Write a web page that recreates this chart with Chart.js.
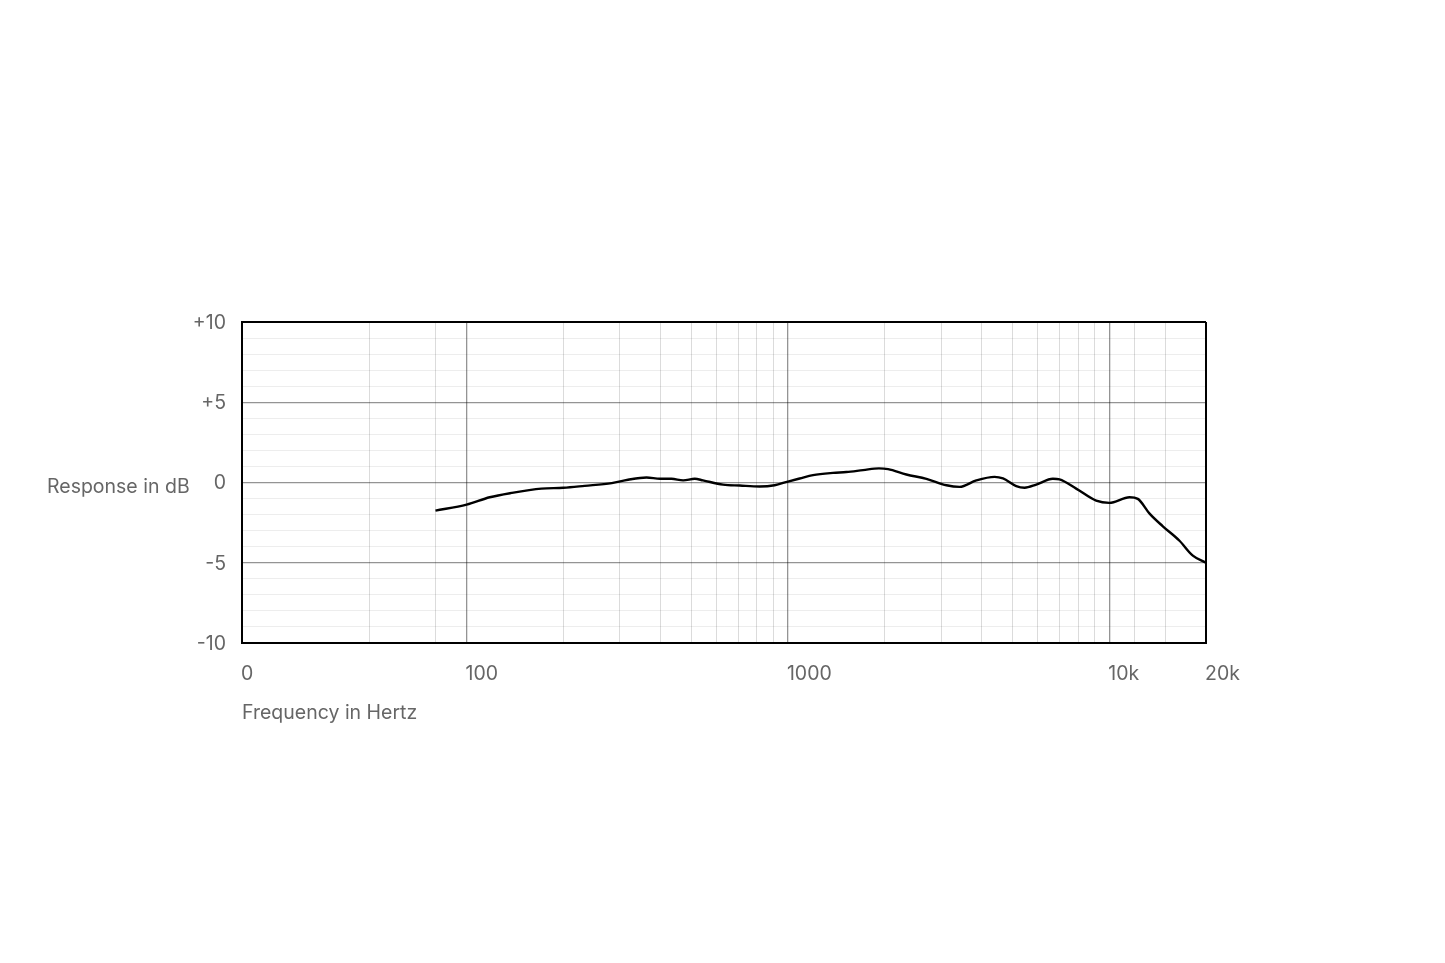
<!DOCTYPE html>
<html>
<head>
<meta charset="utf-8">
<script src="https://cdn.jsdelivr.net/npm/chart.js@4.4.1/dist/chart.umd.min.js"></script>
<style>
  html, body { margin: 0; padding: 0; background: #fff; }
  #wrap { width: 1445px; height: 963px; }
</style>
</head>
<body>
<div id="wrap"><canvas id="chart" width="1445" height="963"></canvas></div>
<script>
// measured curve (Hz / dB)
const freqHz = [80, 100, 118, 138, 171, 200, 233, 283, 318, 363, 400, 434, 472, 513, 544, 628, 708, 817, 909, 1000,
  1088, 1197, 1381, 1520, 1713, 1920, 2050, 2336, 2698, 3114, 3422, 3857, 4396, 4670, 5135, 5452, 5927, 6675, 7000,
  7888, 9104, 10000, 11563, 12271, 13350, 14680, 16540, 18200, 20000]
const responseDb = [-1.75, -1.38, -0.92, -0.65, -0.38, -0.33, -0.21, -0.04, 0.17, 0.31, 0.23, 0.23, 0.13, 0.23, 0.13, -0.13, -0.19, -0.25, -0.17, 0.06,
  0.25, 0.46, 0.6, 0.65, 0.77, 0.88, 0.83, 0.5, 0.23, -0.17, -0.27, 0.13, 0.35, 0.25, -0.23, -0.33, -0.13, 0.23, 0.19,
  -0.38, -1.13, -1.27, -0.92, -1.02, -1.94, -2.73, -3.63, -4.56, -5.0]

// frequency grid lines and their labels
const xGridHz = [20, 50, 80, 100, 200, 300, 400, 500, 600, 700, 800, 900, 1000,
  2000, 3000, 4000, 5000, 6000, 7000, 8000, 9000, 10000, 12000, 15000, 20000]
const xLabelHz = [20, 100, 1000, 10000, 20000]
const xLabelText = ['0', '100', '1000', '10k', '20k']
const xMajorHz = [100, 1000, 10000]

const yMin = -10
const yMax = 10
const yLabelDb = [10, 5, 0, -5, -10]
const yLabelText = ['+10', '+5', '0', '-5', '-10']

const textColor = '#666'
const font = { family: 'Inter, "Noto Sans", sans-serif', size: 19.5 }

// semi-transparent so crossing lines stay continuous
const majorGrid = 'rgba(0,0,0,0.42)'
const minorGridV = 'rgba(0,0,0,0.14)'
const minorGridH = 'rgba(0,0,0,0.07)'

// horizontal y-axis caption next to the 0 tick
const sideTitle = {
  id: 'sideTitle',
  afterDraw(chart) {
    const { ctx, chartArea, scales } = chart
    ctx.save()
    ctx.font = `${font.size}px ${font.family}`
    ctx.fillStyle = textColor
    ctx.textAlign = 'left'
    ctx.textBaseline = 'alphabetic'
    ctx.fillText('Response in dB', chartArea.left - 195, scales.y.getPixelForValue(0) + 10)
    ctx.restore()
  }
}

new Chart(document.getElementById('chart'), {
  type: 'line',
  data: {
    datasets: [{
      data: freqHz.map((f, i) => ({ x: f, y: responseDb[i] })),
      borderColor: '#000',
      borderWidth: 2.4,
      pointRadius: 0,
      tension: 0.4,
      cubicInterpolationMode: 'monotone',
      fill: false
    }]
  },
  plugins: [sideTitle],
  options: {
    responsive: false,
    animation: false,
    layout: { padding: { left: 0, top: 322, right: 239, bottom: 238 } },
    plugins: {
      legend: { display: false },
      tooltip: { enabled: false }
    },
    scales: {
      x: {
        type: 'logarithmic',
        min: 20,
        max: 20000,
        afterBuildTicks: (axis) => {
          axis.ticks = xGridHz.map(v => ({ value: v }))
        },
        afterFit: (axis) => { axis.height = 82 },
        border: { color: '#000', width: 2 },
        grid: {
          drawTicks: false,
          color: (ctx) => {
            const v = ctx.tick && ctx.tick.value
            if (v === 20 || v === 20000) return '#000'
            if (xMajorHz.includes(v)) return majorGrid
            return minorGridV
          },
          lineWidth: (ctx) => {
            const v = ctx.tick && ctx.tick.value
            if (v === 20 || v === 20000) return 2
            return xMajorHz.includes(v) ? 1.3 : 1
          }
        },
        ticks: {
          autoSkip: false,
          maxRotation: 0,
          minRotation: 0,
          align: 'start',
          padding: 19,
          labelOffset: -1,
          color: textColor,
          font: font,
          callback: (v) => {
            const i = xLabelHz.indexOf(v)
            return i >= 0 ? xLabelText[i] : ''
          }
        },
        title: {
          display: true,
          text: 'Frequency in Hertz',
          align: 'start',
          color: textColor,
          font: font,
          padding: { top: 0, bottom: 0 }
        }
      },
      y: {
        min: yMin,
        max: yMax,
        afterFit: (axis) => { axis.width = 242 },
        border: { color: '#000', width: 2 },
        grid: {
          drawTicks: false,
          color: (ctx) => {
            const v = ctx.tick && ctx.tick.value
            if (v === yMin || v === yMax) return '#000'
            if (v % 5 === 0) return majorGrid
            return minorGridH
          },
          lineWidth: (ctx) => {
            const v = ctx.tick && ctx.tick.value
            if (v === yMin || v === yMax) return 2
            return v % 5 === 0 ? 1.3 : 1
          }
        },
        ticks: {
          stepSize: 1,
          autoSkip: false,
          padding: 16,
          labelOffset: 1,
          color: textColor,
          font: font,
          callback: (v) => {
            const i = yLabelDb.indexOf(v)
            return i >= 0 ? yLabelText[i] : ''
          }
        }
      }
    }
  }
})
</script>
</body>
</html>
